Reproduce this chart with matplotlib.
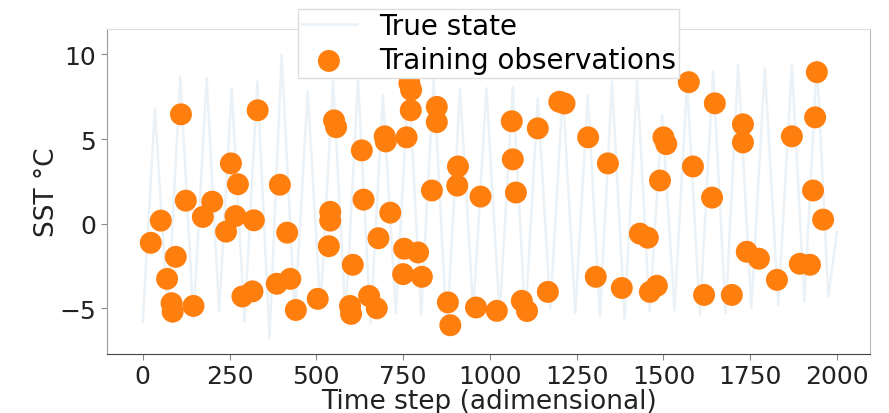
import matplotlib
matplotlib.use("Agg")
import matplotlib.pyplot as plt

# True state: turning points of the oscillation (time, SST anomaly)
state_t = [0, 35, 72, 108, 146, 184, 220, 256, 293, 330, 365, 400, 438, 475,
           512, 548, 584, 620, 656, 692, 729, 766, 802, 838, 876, 914, 952,
           990, 1028, 1066, 1102, 1138, 1174, 1210, 1246, 1282, 1317, 1352,
           1388, 1424, 1460, 1496, 1532, 1568, 1605, 1643, 1679, 1715, 1753,
           1792, 1831, 1870, 1906, 1942, 1975, 2000]
state_v = [-5.8, 6.8, -5.4, 8.7, -5.6, 8.6, -5.2, 8.0, -5.8, 8.4, -6.8, 10.0,
           -5.5, 7.8, -5.0, 8.6, -5.6, 8.5, -5.9, 7.6, -5.3, 8.6, -5.4, 8.6,
           -6.4, 8.0, -5.2, 8.0, -5.4, 8.1, -5.7, 7.4, -5.0, 7.8, -5.3, 7.6,
           -5.5, 8.4, -5.6, 8.6, -5.2, 6.4, -5.1, 8.4, -5.4, 9.0, -5.3, 9.4,
           -5.0, 9.2, -4.8, 9.4, -4.6, 9.6, -4.3, -0.5]

# Training observations
obs_t = [23, 52, 70, 83, 86, 95, 110, 124, 146, 173, 200, 240, 254, 267, 274,
         287, 316, 320, 331, 386, 395, 416, 425, 441, 504, 536, 540, 540, 551,
         557, 597, 600, 605, 631, 636, 652, 674, 679, 697, 700, 713, 750, 753,
         760, 768, 773, 772, 793, 804, 833, 847, 847, 879, 886, 906, 908, 960,
         973, 1020, 1063, 1066, 1075, 1092, 1107, 1138, 1167, 1200, 1215, 1283,
         1305, 1340, 1380, 1432, 1455, 1461, 1481, 1490, 1500, 1508, 1573, 1585,
         1617, 1640, 1648, 1697, 1729, 1729, 1740, 1775, 1827, 1870, 1893, 1922,
         1931, 1937, 1942, 1960]
obs_v = [-1.13, 0.18, -3.26, -4.7, -5.2, -1.96, 6.46, 1.36, -4.86, 0.4, 1.3,
         -0.47, 3.56, 0.45, 2.33, -4.3, -4.0, 0.2, 6.7, -3.55, 2.3, -0.53, -3.26,
         -5.1, -4.44, -1.33, 0.7, 0.18, 6.1, 5.7, -4.86, -5.33, -2.43, 4.33, 1.42,
         -4.27, -5.0, -0.86, 5.16, 4.86, 0.65, -2.98, -1.48, 5.1, 8.3, 7.9, 6.7,
         -1.7, -3.14, 1.96, 6.9, 6.0, -4.65, -6.0, 2.25, 3.38, -4.95, 1.6, -5.15,
         6.05, 3.8, 1.84, -4.56, -5.16, 5.63, -4.03, 7.2, 7.1, 5.1, -3.14, 3.56,
         -3.8, -0.59, -0.83, -4.03, -3.67, 2.55, 5.1, 4.7, 8.36, 3.38, -4.21, 1.54,
         7.11, -4.21, 5.87, 4.8, -1.66, -2.07, -3.32, 5.16, -2.37, -2.43, 1.96,
         6.28, 8.95, 0.24]

x_ticks = [0, 250, 500, 750, 1000, 1250, 1500, 1750, 2000]
y_ticks = [-5, 0, 5, 10]

fig = plt.figure(figsize=(8.89, 4.14), dpi=100)
ax = fig.add_axes([0.120, 0.1425, 0.859, 0.785])

ax.plot(state_t, state_v, color="#1f77b4", alpha=0.09, lw=1.8,
        label="True state", zorder=1)
ax.scatter(obs_t, obs_v, s=250, color="#ff7f0e", edgecolors="none",
           label="Training observations", zorder=2)

ax.set_xlim(-104, 2096)
ax.set_ylim(-7.7, 11.5)
ax.set_xticks(x_ticks)
ax.set_yticks(y_ticks)
ax.tick_params(axis="both", labelsize=18, length=4, width=0.8,
               colors="#888888", labelcolor="#222222")

ax.set_xlabel("Time step (adimensional)", fontsize=19, color="#222222",
              labelpad=0)
ax.set_ylabel("SST °C", fontsize=19, color="#222222", labelpad=0)

ax.spines["left"].set_color("#999999")
ax.spines["bottom"].set_color("#444444")
ax.spines["top"].set_color("#dddddd")
ax.spines["right"].set_color("#bbbbbb")

leg = ax.legend(loc="upper center", bbox_to_anchor=(0.5, 1.105), fontsize=20,
                frameon=True, fancybox=False, borderpad=0.12,
                handletextpad=0.8, labelspacing=0.22)
leg.get_frame().set_edgecolor("#dddddd")
leg.get_frame().set_alpha(1.0)

fig.savefig("out.png", dpi=100)
